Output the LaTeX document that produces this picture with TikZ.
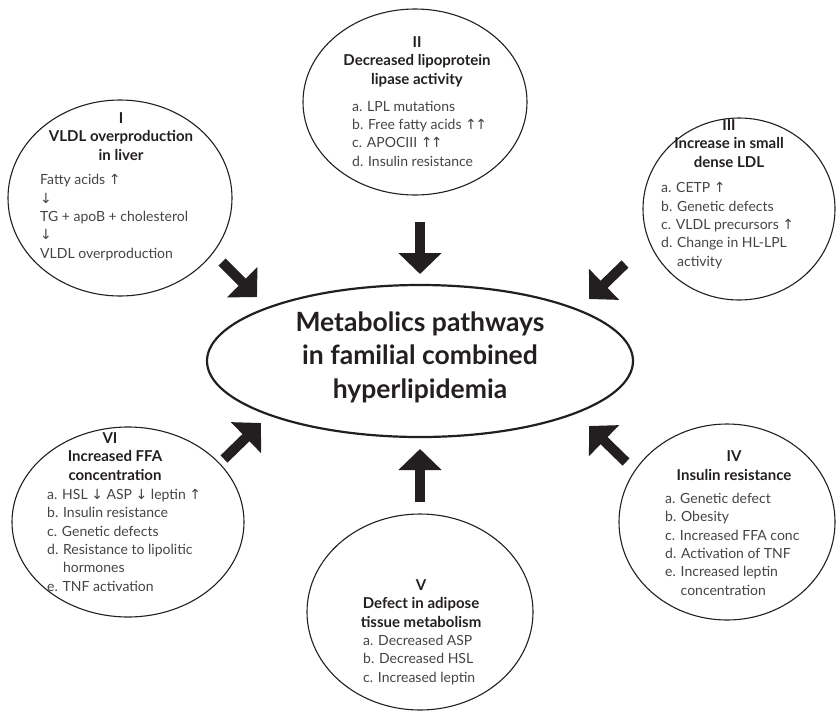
\documentclass[tikz,border=0pt]{standalone}
\usepackage{fontspec}
\setmainfont{Lato}
\newfontfamily\arrfont{DejaVu Sans}
\usetikzlibrary{shapes.geometric,arrows.meta}
\definecolor{ink}{HTML}{231F20}
\definecolor{txt}{HTML}{444444}
\newcommand{\myup}{{\arrfont\char"2191}}
\newcommand{\mydn}{{\arrfont\char"2193}}
\begin{document}
\begin{tikzpicture}[x=1pt,y=-1pt,
  bubble/.style={ellipse,draw=ink,line width=1.1pt,inner sep=0pt},
  ttl/.style={align=center,inner sep=0pt,text=ink,font=\bfseries\fontsize{15}{18.5}\selectfont,anchor=base},
  lst/.style={align=left,inner sep=0pt,text=txt,font=\fontsize{14}{18.3}\selectfont,anchor=base west},
  blk/.style={line width=10pt,draw=ink,-{Triangle[width=42pt,length=21pt]}}]
\useasboundingbox (0,0) rectangle (837,715);

% central
\node[ellipse,draw=ink,line width=2.2pt,inner sep=0pt,minimum width=426pt,minimum height=152pt] (m) at (420,361) {};
\node[align=center,inner sep=0pt,text=ink,font=\bfseries\fontsize{26.5}{33.5}\selectfont,anchor=base] (mt) at (420,398) {Metabolics pathways\\in familial combined\\hyperlipidemia};

% I
\node[bubble,minimum width=224pt,minimum height=196pt] (c1) at (120,198) {};
\node[ttl] (t1) at (121,160) {I\\VLDL overproduction\\in liver};
\node[lst] (l1) at (40,258) {Fatty acids \myup\\\mydn\\TG + apoB + cholesterol\\\mydn\\VLDL overproduction};

% II
\node[bubble,minimum width=224pt,minimum height=186pt] (c2) at (415,102) {};
\node[ttl] (t2) at (417,84) {II\\Decreased lipoprotein\\lipase activity};
\node[lst] (l2) at (352,166) {a. LPL mutations\\b. Free fatty acids \myup\kern-1.5pt\myup\\c. APOCIII \myup\kern-1.5pt\myup\\d. Insulin resistance};

% III
\node[bubble,minimum width=192pt,minimum height=182pt] (c3) at (739,209) {};
\node[ttl] (t3) at (729,167) {III\\Increase in small\\dense LDL};
\node[lst] (l3) at (661,266) {a. CETP \myup\\b. Genetic defects\\c. VLDL precursors \myup\\d. Change in HL-LPL\\\hphantom{d. }activity};

% IV
\node[bubble,minimum width=216pt,minimum height=196pt] (c4) at (727,522) {};
\node[ttl] (t4) at (734,480) {IV\\Insulin resistance};
\node[lst] (l4) at (665,595) {a. Genetic defect\\b. Obesity\\c. Increased FFA conc\\d. Activation of TNF\\e. Increased leptin\\\hphantom{e. }concentration};

% V
\node[bubble,minimum width=226pt,minimum height=196pt] (c5) at (420,612) {};
\node[ttl] (t5) at (421,627) {V\\Defect in adipose\\tissue metabolism};
\node[lst] (l5) at (363,682) {a. Decreased ASP\\b. Decreased HSL\\c. Increased leptin};

% VI
\node[bubble,minimum width=232pt,minimum height=190pt] (c6) at (128,522) {};
\node[ttl] (t6) at (115,480) {\hspace*{-10pt}\makebox[0pt]{VI}\\Increased FFA\\concentration};
\node[lst] (l6) at (47,591) {a. HSL \mydn{} ASP \mydn{} leptin \myup\\b. Insulin resistance\\c. Genetic defects\\d. Resistance to lipolitic\\\hphantom{d. }hormones\\e. TNF activation};

% arrows
\coordinate (a1s) at (222,262); \coordinate (a1e) at (257,297);
\coordinate (a2s) at (420,222); \coordinate (a2e) at (420,274);
\coordinate (a3s) at (625,264); \coordinate (a3e) at (589,299);
\coordinate (a4s) at (626,462); \coordinate (a4e) at (589,426);
\coordinate (a5s) at (420,502); \coordinate (a5e) at (420,449);
\coordinate (a6s) at (224,459); \coordinate (a6e) at (261,423);
\draw[blk] (a1s) -- (a1e);
\draw[blk] (a2s) -- (a2e);
\draw[blk] (a3s) -- (a3e);
\draw[blk] (a4s) -- (a4e);
\draw[blk] (a5s) -- (a5e);
\draw[blk] (a6s) -- (a6e);
\end{tikzpicture}
\end{document}
